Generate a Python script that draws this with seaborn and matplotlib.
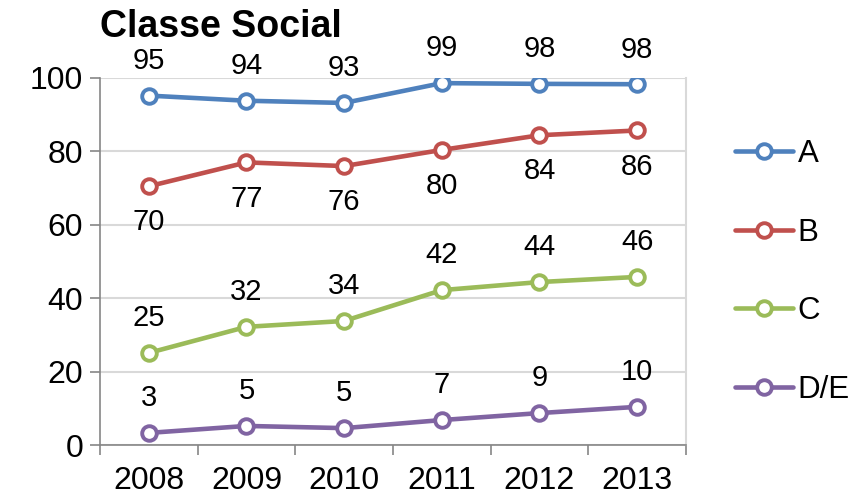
import matplotlib
matplotlib.use('Agg')
import matplotlib.pyplot as plt
import pandas as pd
import seaborn as sns

# Data
anos = ['2008', '2009', '2010', '2011', '2012', '2013']
classes = ['A', 'B', 'C', 'D/E']
valores_a = [95.2, 93.8, 93.2, 98.6, 98.4, 98.3]
valores_b = [70.5, 77.0, 76.0, 80.4, 84.4, 85.7]
valores_c = [25.1, 32.2, 33.8, 42.2, 44.4, 45.8]
valores_de = [3.3, 5.2, 4.6, 6.8, 8.7, 10.4]
cores = ['#4F81BD', '#C0504D', '#9BBB59', '#8064A2']

df = pd.DataFrame({
    'ano': anos * 4,
    'valor': valores_a + valores_b + valores_c + valores_de,
    'classe': [c for c in classes for _ in anos],
})

sns.set_theme(style='white')
plt.rcParams['font.family'] = ['Liberation Sans', 'DejaVu Sans']
plt.rcParams['text.color'] = 'black'
plt.rcParams['xtick.labelcolor'] = 'black'
plt.rcParams['ytick.labelcolor'] = 'black'

fig = plt.figure(figsize=(8.57, 4.98), dpi=100)
ax = fig.add_axes([0.1167, 0.1064, 0.6837, 0.737])

sns.lineplot(df, x='ano', y='valor', hue='classe', palette=cores,
             marker='o', markersize=10.5, markerfacecolor='white',
             markeredgewidth=2.8, linewidth=3.3, legend=False, ax=ax,
             zorder=3)
# seaborn paints marker edges white; give them the line colour
for ln, c in zip(ax.lines, cores):
    ln.set_markeredgecolor(c)
    ln.set_markerfacecolor('white')

# data labels: B below, the others above
for i, classe in enumerate(classes):
    sub = df[df['classe'] == classe].reset_index(drop=True)
    dy = -26 if classe == 'B' else 25
    for j, row in sub.iterrows():
        ax.annotate(f"{round(row['valor']):d}", (j, row['valor']),
                    xytext=(0, dy), textcoords='offset points',
                    ha='center', va='center', fontsize=21, color='black')

ax.set_xlim(-0.5, 5.5)
ax.set_ylim(0, 100)
ax.set_yticks(range(0, 101, 20))
ax.set_xticks(range(len(anos)))
ax.set_xticklabels(anos)
ax.set_xticks([x - 0.5 for x in range(len(anos) + 1)], minor=True)
ax.set_xlabel('')
ax.set_ylabel('')

ax.yaxis.grid(True, color='#D9D9D9', linewidth=1.5)
ax.set_axisbelow(True)
for s in ['left', 'bottom']:
    ax.spines[s].set_color('#868686')
    ax.spines[s].set_linewidth(1.2)
ax.spines['right'].set_color('#D9D9D9')
ax.spines['right'].set_linewidth(1.5)
ax.spines['top'].set_visible(False)

ax.tick_params(axis='y', which='major', left=True, length=7, width=1.2,
               color='#868686', pad=5, labelsize=23)
ax.tick_params(axis='x', which='major', bottom=False, length=0, pad=15,
               labelsize=23)
ax.tick_params(axis='x', which='minor', bottom=True, length=7, width=1.2,
               color='#868686')

fig.text(0.1167, 0.925, 'Classe Social', fontsize=27, fontweight='bold',
         ha='left', va='baseline')

fig.legend(ax.lines[:4], classes, loc='center left',
           bbox_to_anchor=(0.858, 0.454), frameon=False, fontsize=22.5,
           handlelength=1.85, handletextpad=0.15, labelspacing=1.55,
           borderpad=0, borderaxespad=0)

fig.savefig('out.png', dpi=100)
